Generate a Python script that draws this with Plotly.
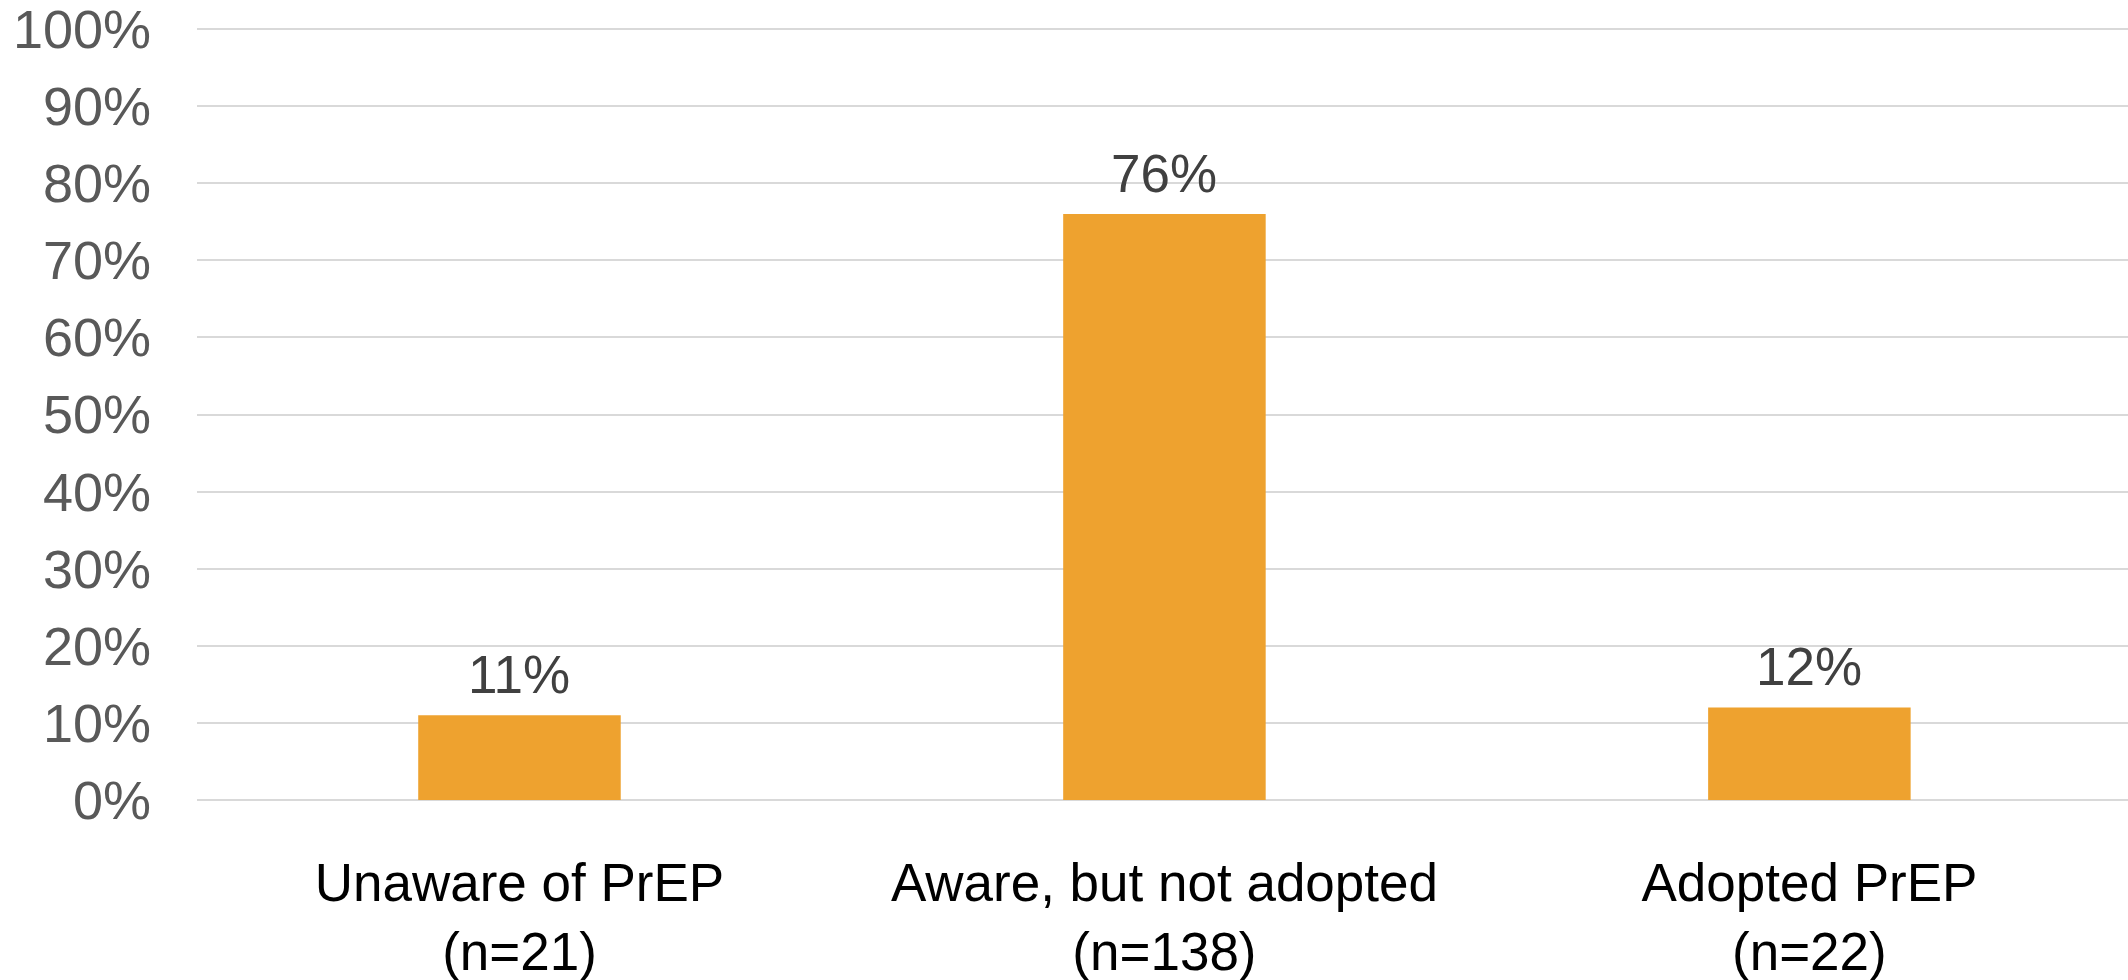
import plotly.graph_objects as go

categories = ["Unaware of PrEP<br>(n=21)", "Aware, but not adopted<br>(n=138)", "Adopted PrEP<br>(n=22)"]
values = [0.11, 0.76, 0.12]
labels = ["11%", "76%", "12%"]
tick_vals = [i / 10 for i in range(11)]
tick_text = [f"{i * 10}%" for i in range(11)]

FONT = "Liberation Sans, Arial, sans-serif"
BAR = "#EEA22F"

fig = go.Figure()
fig.add_trace(go.Bar(
    x=categories, y=values,
    marker=dict(color=BAR, line=dict(width=0)),
    hoverinfo="skip",
))

for c, v, t in zip(categories, values, labels):
    fig.add_annotation(
        x=c, y=v, text=t, showarrow=False,
        yanchor="bottom", yshift=9,
        font=dict(family=FONT, size=53, color="#404040"),
    )

fig.update_layout(
    width=2128, height=980,
    margin=dict(l=197, r=0, t=27, b=180),
    paper_bgcolor="white", plot_bgcolor="white",
    bargap=0.686,
    showlegend=False,
    font=dict(family=FONT),
)
fig.update_xaxes(
    range=[-0.5, 2.494], automargin=False,
    showgrid=False, showline=False, zeroline=False,
    tickfont=dict(family=FONT, size=53, color="#000000"),
    ticklabelstandoff=47,
    ticklabeloverflow="allow",
)
fig.update_yaxes(
    range=[0, 1.0026], automargin=False, tickvals=tick_vals, ticktext=tick_text,
    showgrid=True, gridcolor="#D9D9D9", gridwidth=1.5,
    zeroline=True, zerolinecolor="#D9D9D9", zerolinewidth=1.5,
    showline=False,
    tickfont=dict(family=FONT, size=54, color="#595959"),
    ticklabelstandoff=45,
    ticklabeloverflow="allow",
)

fig.write_html("out.html")
